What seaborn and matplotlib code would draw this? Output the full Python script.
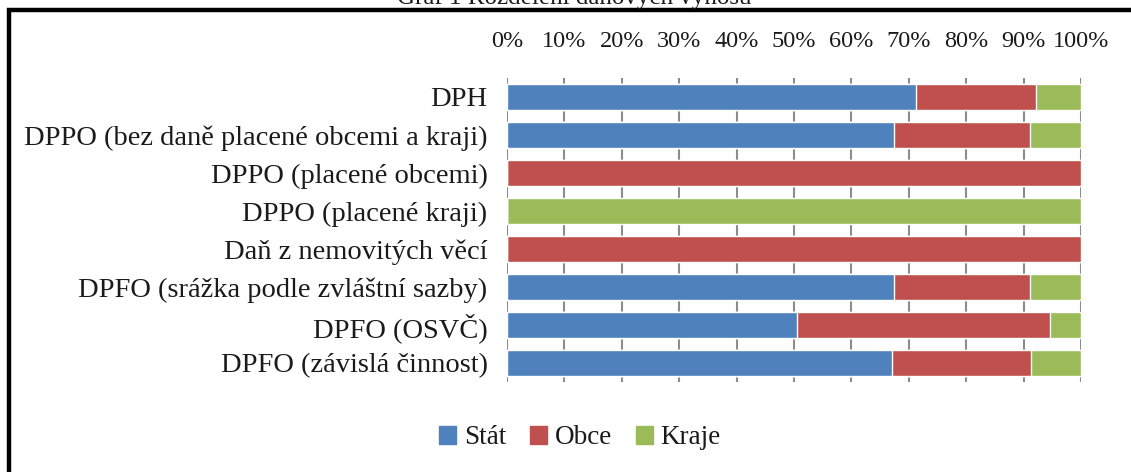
import numpy as np
import pandas as pd
import matplotlib.pyplot as plt
import seaborn as sns
from matplotlib.patches import Patch, Rectangle

# data (shares in %)
dane = ['DPH',
        'DPPO (bez daně placené obcemi a kraji)',
        'DPPO (placené obcemi)',
        'DPPO (placené kraji)',
        'Daň z nemovitých věcí',
        'DPFO (srážka podle zvláštní sazby)',
        'DPFO (OSVČ)',
        'DPFO (závislá činnost)']
stat = [71.3, 67.5, 0, 0, 0, 67.5, 50.5, 67.0]
obce = [20.9, 23.6, 100, 0, 100, 23.6, 44.1, 24.3]
kraje = [7.8, 8.9, 0, 100, 0, 8.9, 5.4, 8.7]
ticks = [0, 10, 20, 30, 40, 50, 60, 70, 80, 90, 100]

df = pd.DataFrame({'dan': dane, 'Stát': stat, 'Obce': obce, 'Kraje': kraje})
df['s_o'] = df['Stát'] + df['Obce']
df['s_o_k'] = df['s_o'] + df['Kraje']

sns.set_style('white')
plt.rcParams['font.family'] = ['Liberation Serif', 'DejaVu Serif']

barvy = {'Stát': '#4F81BD', 'Obce': '#C0504D', 'Kraje': '#9BBB59'}

fig = plt.figure(figsize=(11.31, 4.72), dpi=100)
ax = fig.add_axes([507 / 1131, 1 - 382 / 472, 574 / 1131, 304 / 472])

sns.barplot(data=df, x='s_o_k', y='dan', color=barvy['Kraje'], width=0.68,
            saturation=1, orient='h', ax=ax, zorder=3)
sns.barplot(data=df, x='s_o', y='dan', color=barvy['Obce'], width=0.68,
            saturation=1, orient='h', ax=ax, zorder=3)
sns.barplot(data=df, x='Stát', y='dan', color=barvy['Stát'], width=0.68,
            saturation=1, orient='h', ax=ax, zorder=3)

ax.set_xlim(0, 100)
ax.set_ylim(len(dane) - 0.5, -0.5)
ax.set_xticks(ticks)
ax.set_xticklabels([f'{t}%' for t in ticks], fontsize=17.5)
ax.xaxis.tick_top()
ax.tick_params(axis='x', length=0, pad=19, colors='#1a1a1a')
ax.tick_params(axis='y', length=0, pad=14, labelsize=20.5, colors='#1a1a1a')
ax.set_xlabel('')
ax.set_ylabel('')
ax.grid(axis='x', color='#8c8c8c', linewidth=1.5, zorder=0)
for s in ax.spines.values():
    s.set_visible(False)

handles = [Patch(color=barvy[k], label=k) for k in ['Stát', 'Obce', 'Kraje']]
leg = fig.legend(handles=handles, loc='center', bbox_to_anchor=(0.513, 1 - 438 / 472),
                 ncol=3, frameon=False, fontsize=19.5, handlelength=0.6,
                 handleheight=0.6, handletextpad=0.3, columnspacing=0.9)
for t in leg.get_texts():
    t.set_color('#1a1a1a')

# frame around the chart and the cut-off title
fig.patches.append(Rectangle((9 / 1131, -0.2), 1.2, 1.2 - 9.5 / 472,
                             transform=fig.transFigure, fill=False,
                             edgecolor='black', linewidth=3.2))
fig.text(0.508, 1 - 4 / 472, 'Graf 1 Rozdělení daňových výnosů', ha='center',
         va='baseline', fontsize=18, color='#1a1a1a')

fig.savefig('out.png', dpi=100)
